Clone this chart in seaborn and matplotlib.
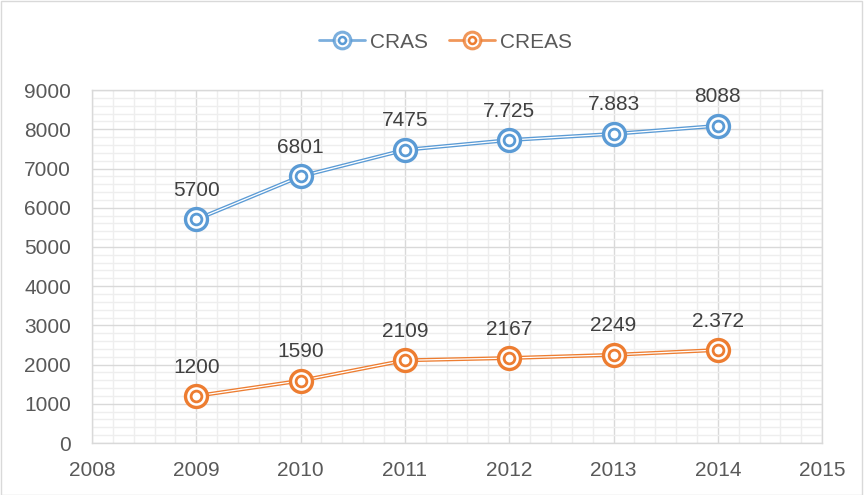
import matplotlib
matplotlib.use("Agg")
import matplotlib.pyplot as plt
import seaborn as sns
import pandas as pd
from matplotlib.ticker import MultipleLocator
from matplotlib.lines import Line2D
from matplotlib.legend_handler import HandlerTuple
import matplotlib.patheffects as pe

years = [2009, 2010, 2011, 2012, 2013, 2014]
cras = [5700, 6801, 7475, 7725, 7883, 8088]
creas = [1200, 1590, 2109, 2167, 2249, 2372]
cras_labels = ["5700", "6801", "7475", "7.725", "7.883", "8088"]
creas_labels = ["1200", "1590", "2109", "2167", "2249", "2.372"]
series_names = ["CRAS", "CREAS"]
colors = ["#5b9bd5", "#ed7d31"]

df = pd.DataFrame({
    "year": years * 2,
    "value": cras + creas,
    "series": [series_names[0]] * len(years) + [series_names[1]] * len(years),
})

sns.set_style("white")
plt.rcParams["font.family"] = ["Liberation Sans", "DejaVu Sans"]
text_color = "#595959"

fig = plt.figure(figsize=(8.64, 4.95), dpi=100)
ax = fig.add_axes([0.1065, 0.105, 0.845, 0.713])

# double-line effect: colored line with thin white core
sns.lineplot(data=df, x="year", y="value", hue="series", palette=colors,
             linewidth=2.8, ax=ax, legend=False, zorder=3)
for ln in ax.lines:
    ln.set_path_effects([pe.Stroke(linewidth=2.8, foreground=ln.get_color()),
                         pe.Stroke(linewidth=0.9, foreground="white")])

for vals, c in zip([cras, creas], colors):
    ax.scatter(years, vals, s=250, facecolors="white", edgecolors=c, linewidths=2.4, zorder=4)
    ax.scatter(years, vals, s=60, facecolors="white", edgecolors=c, linewidths=2.0, zorder=5)

for vals, labs in zip([cras, creas], [cras_labels, creas_labels]):
    for x, v, t in zip(years, vals, labs):
        ax.annotate(t, (x, v), xytext=(0, 14), textcoords="offset points",
                    ha="center", va="bottom", fontsize=15, color="#404040")

ax.set_xlim(2008, 2015)
ax.set_ylim(0, 9000)
ax.xaxis.set_major_locator(MultipleLocator(1))
ax.xaxis.set_minor_locator(MultipleLocator(0.2))
ax.yaxis.set_major_locator(MultipleLocator(1000))
ax.yaxis.set_minor_locator(MultipleLocator(200))
ax.grid(which="major", color="#d9d9d9", linewidth=1.0, zorder=0)
ax.grid(which="minor", color="#eeeeee", linewidth=1.0, zorder=0)
ax.set_axisbelow(True)
for s in ax.spines.values():
    s.set_color("#d9d9d9")
    s.set_linewidth(1.0)
ax.tick_params(axis="both", which="both", length=0, labelsize=15, labelcolor=text_color)
ax.tick_params(axis="y", pad=15)
ax.tick_params(axis="x", pad=13)
ax.set_xlabel("")
ax.set_ylabel("")

handles = []
for c in colors:
    h1 = Line2D([0], [0], color=c, linewidth=2.0, alpha=0.8, marker="o", markersize=12,
                markerfacecolor="white", markeredgecolor=c, markeredgewidth=2.2)
    h2 = Line2D([0], [0], linestyle="none", marker="o", markersize=5,
                markerfacecolor="white", markeredgecolor=c, markeredgewidth=1.8)
    handles.append((h1, h2))
fig.legend(handles, series_names, loc="center", bbox_to_anchor=(0.516, 0.915), ncol=2,
           frameon=False, fontsize=15, labelcolor=text_color, handlelength=2.2,
           columnspacing=1.0, handletextpad=0.25,
           handler_map={tuple: HandlerTuple(ndivide=1, pad=0)})

fig.patches.append(plt.Rectangle((0.001, 0.001), 0.997, 0.997, transform=fig.transFigure,
                                 fill=False, edgecolor="#d9d9d9", linewidth=1.0))

fig.savefig("out.png", dpi=100)
